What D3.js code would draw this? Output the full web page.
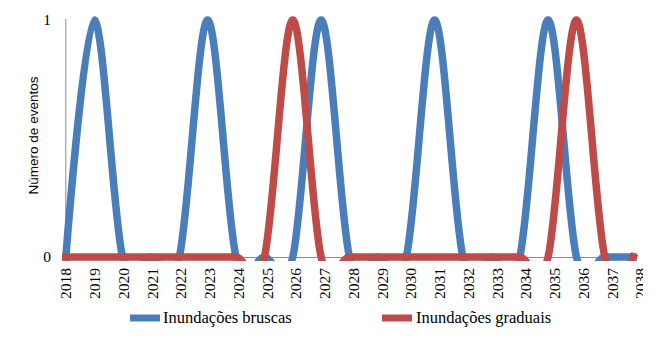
<!DOCTYPE html>
<html>
<head>
<meta charset="utf-8">
<script src="https://cdn.jsdelivr.net/npm/d3@7"></script>
<style>
  html, body { margin: 0; padding: 0; background: #fff; }
  svg { display: block; }
  .serif { font-family: "Liberation Serif", "Times New Roman", Tinos, "DejaVu Serif", serif; }
  .sans { font-family: "Liberation Sans", Arial, sans-serif; }
</style>
</head>
<body>
<svg id="chart" width="672" height="339"></svg>
<script>
// Categories (years) and event counts per year
const years = ["2018","2019","2020","2021","2022","2023","2024","2025","2026","2027",
               "2028","2029","2030","2031","2032","2033","2034","2035","2036","2037","2038"];
const bruscas  = [0,1,0,0,0,1,0,0,0,1,0,0,0,1,0,0,0,1,0,0,0];
const graduais = [0,0,0,0,0,0,0,0,1,0,0,0,0,0,0,0,0,0,1,0,0];
const yTicks = [0, 1];
const seriesNames = ["Inundações bruscas", "Inundações graduais"];
const seriesColors = ["#4A7EBB", "#BE4B48"];

const svg = d3.select("#chart");

const y0 = 257, y1 = 20, axisX = 65.8;

// data positions and label positions along the category axis
const x = d3.scalePoint().domain(years).range([axisX, 633.2]);
const xLab = d3.scalePoint().domain(years).range([66, 641]);
const y = d3.scaleLinear().domain([0, 1]).range([y0, y1]);

// plot clip: smoothed curves dipping under zero are hidden
const defs = svg.append("defs");
defs.append("clipPath").attr("id", "plotClip")
  .append("rect").attr("x", 0).attr("y", 0).attr("width", 672).attr("height", y0 + 4);
defs.append("clipPath").attr("id", "labelClip")
  .append("rect").attr("x", 0).attr("y", 0).attr("width", 643).attr("height", 339);

// axes lines
svg.append("line")
  .attr("x1", axisX).attr("x2", axisX).attr("y1", y(1) - 1).attr("y2", y0)
  .attr("stroke", "#8C8C8C").attr("stroke-width", 1);
svg.append("line")
  .attr("x1", axisX).attr("x2", x("2038")).attr("y1", y0 + 0.5).attr("y2", y0 + 0.5)
  .attr("stroke", "#8C8C8C").attr("stroke-width", 1);

// y tick labels
svg.append("g").selectAll("text").data(yTicks).join("text")
  .attr("class", "serif")
  .attr("x", 51).attr("y", d => y(d)).attr("dy", "0.35em")
  .attr("text-anchor", "end")
  .style("font-size", "15.5px")
  .attr("fill", "#000").text(d => d);

// y axis title
svg.append("text")
  .attr("class", "sans")
  .attr("transform", `translate(33,${(y0 + y1) / 2 - 3}) rotate(-90)`)
  .attr("dy", "0.35em").attr("text-anchor", "middle")
  .style("font-size", "13.5px")
  .attr("fill", "#000").text("Número de eventos");

// x tick labels (rotated)
svg.append("g").attr("clip-path", "url(#labelClip)")
  .selectAll("text").data(years).join("text")
  .attr("class", "serif")
  .attr("transform", d => `translate(${xLab(d)},${y0 + 11}) rotate(-90)`)
  .attr("dy", "0.35em").attr("text-anchor", "end")
  .style("font-size", "15.5px")
  .attr("fill", "#000").text(d => d);

// smoothed series lines
const line = d3.line()
  .x((d, i) => x(years[i]))
  .y(d => y(d))
  .curve(d3.curveCardinal.tension(0));

const plot = svg.append("g").attr("clip-path", "url(#plotClip)");
[bruscas, graduais].forEach((vals, k) => {
  plot.append("path")
    .attr("d", line(vals))
    .attr("fill", "none")
    .attr("stroke", seriesColors[k])
    .attr("stroke-width", 7.5)
    .attr("stroke-linecap", "square")
    .attr("stroke-linejoin", "round");
});

// legend
const legendPos = [{lx: 130, tx: 163}, {lx: 382, tx: 416}];
const ly = 318;
seriesNames.forEach((name, k) => {
  svg.append("line")
    .attr("x1", legendPos[k].lx).attr("x2", legendPos[k].lx + 30)
    .attr("y1", ly).attr("y2", ly)
    .attr("stroke", seriesColors[k]).attr("stroke-width", 7);
  svg.append("text")
    .attr("class", "serif")
    .attr("x", legendPos[k].tx).attr("y", ly + 4.5)
    .style("font-size", "16.5px")
    .attr("fill", "#000").text(name);
});
</script>
</body>
</html>
